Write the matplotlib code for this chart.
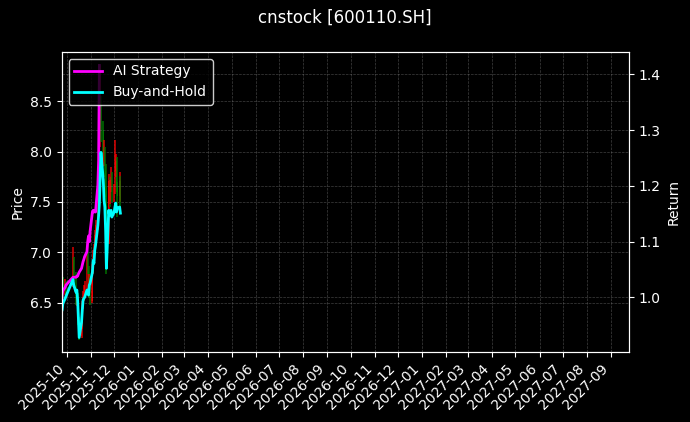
import pandas as pd
import matplotlib
matplotlib.use("Agg")
import matplotlib.pyplot as plt
import matplotlib.dates as mdates

# trading days (Oct 1-8 holiday removed)
days = pd.bdate_range("2025-09-24", "2025-12-09")
days = days[(days < "2025-10-01") | (days > "2025-10-08")]

opens = [6.60, 6.67, 6.72, 6.62, 6.69, 6.70, 6.92, 6.77, 6.52, 6.57,
         6.47, 6.32, 6.17, 6.27, 6.47, 6.57, 6.62, 6.67, 6.97, 6.82,
         6.62, 6.72, 6.52, 6.82, 6.97, 7.02, 7.17, 7.27, 7.51, 7.71,
         8.11, 8.41, 8.21, 7.91, 8.01, 7.81, 7.61, 7.12, 7.71, 7.51,
         7.66, 7.76, 7.56, 7.61, 7.81, 7.91, 7.66, 7.56, 7.71]
highs = [6.78, 6.82, 6.75, 6.74, 6.72, 7.05, 6.95, 6.80, 6.63, 6.60,
         6.50, 6.36, 6.33, 6.52, 6.62, 6.68, 6.72, 7.05, 7.00, 6.86,
         6.78, 6.75, 6.88, 7.02, 7.08, 7.22, 7.32, 7.58, 7.78, 8.20,
         8.86, 8.55, 8.30, 8.12, 8.05, 7.88, 7.65, 7.78, 7.75, 7.72,
         7.85, 7.80, 7.68, 8.12, 7.98, 7.95, 7.70, 7.80, 7.76]
lows = [6.55, 6.62, 6.55, 6.58, 6.56, 6.66, 6.72, 6.48, 6.47, 6.42,
        6.28, 6.13, 6.15, 6.24, 6.44, 6.52, 6.58, 6.64, 6.78, 6.55,
        6.58, 6.48, 6.50, 6.78, 6.90, 6.98, 7.10, 7.22, 7.45, 7.65,
        8.05, 8.10, 7.85, 7.86, 7.75, 7.55, 6.78, 7.08, 7.45, 7.48,
        7.60, 7.50, 7.50, 7.58, 7.75, 7.60, 7.35, 7.50, 7.45]
closes = [6.67, 6.72, 6.62, 6.69, 6.62, 6.92, 6.77, 6.52, 6.57, 6.47,
          6.32, 6.17, 6.27, 6.47, 6.57, 6.62, 6.67, 6.97, 6.82, 6.62,
          6.72, 6.52, 6.82, 6.97, 7.02, 7.17, 7.27, 7.51, 7.71, 8.11,
          8.41, 8.21, 7.91, 8.01, 7.81, 7.61, 7.12, 7.71, 7.51, 7.66,
          7.76, 7.56, 7.61, 7.81, 7.91, 7.66, 7.56, 7.71, 7.51]

buy_hold = [0.973, 0.977, 0.989, 0.998, 1.002, 1.032, 1.022, 1.009, 1.013, 0.995,
            0.962, 0.928, 0.955, 0.977, 0.995, 0.998, 1.000, 1.013, 1.013, 1.004,
            1.022, 1.025, 1.045, 1.066, 1.061, 1.084, 1.093, 1.129, 1.147, 1.169,
            1.219, 1.260, 1.210, 1.174, 1.162, 1.120, 1.052, 1.156, 1.147, 1.153,
            1.156, 1.144, 1.153, 1.162, 1.169, 1.153, 1.160, 1.162, 1.151]
ai_strategy = [0.975, 1.005, 1.012, 1.018, 1.022, 1.036, 1.036, 1.036, 1.038, 1.038,
               1.042, 1.045, 1.052, 1.058, 1.064, 1.068, 1.073, 1.082, 1.100, 1.110,
               1.100, 1.118, 1.153, 1.156, 1.153, 1.156, 1.153, 1.201, 1.246, 1.416]

plt.style.use("dark_background")
fig, ax = plt.subplots(figsize=(6.9, 4.22), dpi=100)
fig.subplots_adjust(left=0.0894, right=0.9116, top=0.8768, bottom=0.1659)

# candles
for d, o, h, l, c in zip(days, opens, highs, lows, closes):
    col = "red" if c >= o else "green"
    ax.vlines(d, l, h, color=col, linewidth=1.2, alpha=0.8)
    ax.bar(d, abs(c - o), bottom=min(o, c), width=0.8, color=col, alpha=0.8)

ax.set_ylabel("Price")
ax.set_ylim(6.01, 8.99)
ax.grid(True, color="gray", linestyle="--", linewidth=0.5, alpha=0.5)

ax2 = ax.twinx()
ax2.plot(days[:len(ai_strategy)], ai_strategy, color="#ff00ff", linewidth=2, label="AI Strategy")
ax2.plot(days, buy_hold, color="#00ffff", linewidth=2, label="Buy-and-Hold")
ax2.set_ylabel("Return")
ax2.set_ylim(0.902, 1.44)
ax2.grid(True, color="gray", linestyle="--", linewidth=0.5, alpha=0.5)
ax2.legend(loc="upper left", facecolor="black", edgecolor="white")

ax.set_xlim(pd.Timestamp("2025-09-24 12:00"), pd.Timestamp("2027-09-24"))
ax.xaxis.set_major_locator(mdates.MonthLocator())
ax.xaxis.set_major_formatter(mdates.DateFormatter("%Y-%m"))
plt.setp(ax.get_xticklabels(), rotation=45, ha="right")

fig.suptitle("cnstock [600110.SH]")
fig.savefig("out.png")
